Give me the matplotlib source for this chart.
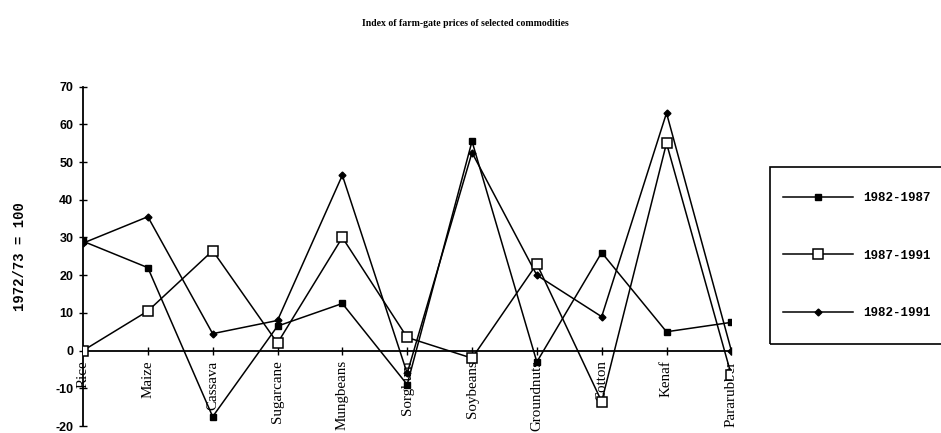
import matplotlib
matplotlib.use("Agg")
import matplotlib.pyplot as plt
from matplotlib.patches import Rectangle

commodities = ["Rice", "Maize", "Cassava", "Sugarcane", "Mungbeans", "Sorghum",
               "Soybeans", "Groundnuts", "Cotton", "Kenaf", "Pararubber"]
p_1982_1987 = [29, 22, -17.5, 6.5, 12.5, -9, 55.5, -3, 26, 5, 7.5]
p_1987_1991 = [0, 10.5, 26.5, 2, 30, 3.5, -2, 23, -13.5, 55, -6.5]
p_1982_1991 = [28.5, 35.5, 4.5, 8, 46.5, -6, 52.5, 20, 9, 63, 0]
series_labels = ["1982-1987", "1987-1991", "1982-1991"]
y_ticks = [-20, -10, 0, 10, 20, 30, 40, 50, 60, 70]

W, H = 941, 433
fig = plt.figure(figsize=(W / 100, H / 100), dpi=100, facecolor="white")
ax = fig.add_axes([0.0882, 0.016, 0.689, 0.784])

x = list(range(len(commodities)))
l1, = ax.plot(x, p_1982_1987, color="black", lw=1.1, marker="s", ms=5,
              mfc="black", mec="black", zorder=3)
l2, = ax.plot(x, p_1987_1991, color="black", lw=1.1, marker="s", ms=6.5,
              mfc="white", mec="black", mew=1.1, zorder=4)
l3, = ax.plot(x, p_1982_1991, color="black", lw=1.1, marker="D", ms=3.5,
              mfc="black", mec="black", zorder=3)

ax.spines["top"].set_visible(False)
ax.spines["right"].set_visible(False)
ax.spines["bottom"].set_position(("data", 0))
ax.spines["left"].set_linewidth(1.3)
ax.spines["bottom"].set_linewidth(1.3)
ax.tick_params(axis="both", direction="inout", length=6, width=1.0)
ax.tick_params(axis="x", pad=4, labelrotation=90)
ax.tick_params(axis="y", pad=4)

ax.set_xlim(0, len(commodities) - 1)
ax.set_ylim(-20, 70)
ax.set_yticks(y_ticks)
ax.set_xticks(x)
ax.set_xticklabels(commodities, rotation=90, family="Liberation Serif",
                   fontsize=10.8, va="top", ha="center")
ax.set_yticklabels([str(t) for t in y_ticks], family="Liberation Sans",
                   fontweight="bold", fontsize=9)

ax.set_ylabel("1972/73 = 100", family="Liberation Mono", fontweight="bold",
              fontsize=10, labelpad=20)

fig.text(0.495, 0.945, "Index of farm-gate prices of selected commodities",
         family="Liberation Serif", fontweight="bold", fontsize=7,
         ha="center", va="center")

# legend box runs off the right edge like in the scan
box = Rectangle((770 / W, 1 - 344 / H), 200 / W, 177 / H, transform=fig.transFigure,
                fill=False, edgecolor="black", linewidth=1.2)
fig.patches.append(box)

leg = fig.legend([l1, l2, l3], series_labels,
                 loc="upper left", bbox_to_anchor=(783 / W, 1 - 192 / H),
                 prop={"family": "Liberation Mono", "weight": "bold", "size": 9},
                 frameon=False, handlelength=5.6, handletextpad=0.85,
                 labelspacing=3.65, borderpad=0, borderaxespad=0)

fig.savefig("out.png", dpi=100, facecolor="white")
